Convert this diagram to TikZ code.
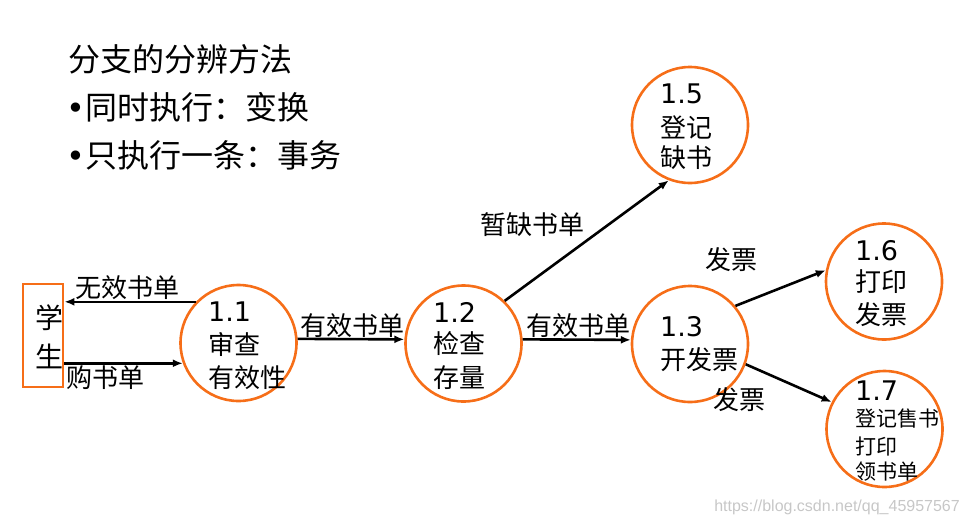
\documentclass[tikz,border=0pt]{standalone}
\usepackage{fontspec}
\setmainfont{Noto Sans CJK SC}
\newfontfamily\dvs{DejaVu Sans}
\newfontfamily\wmfont{Liberation Sans}
\usetikzlibrary{arrows.meta}
\definecolor{procorange}{RGB}{246,110,24}
\begin{document}
\begin{tikzpicture}[x=1pt,y=-1pt,
  proc/.style={circle, draw=procorange, line width=2.6pt, minimum size=116pt, inner sep=0pt},
  ent/.style={rectangle, draw=procorange, line width=2.8pt, minimum width=40pt, minimum height=103pt, inner sep=0pt},
  flow/.style={draw=black, line width=2.6pt, -{Latex[length=10pt,width=8pt]}},
  lbl/.style={font=\fontsize{26}{26}\selectfont, inner sep=0pt},
  ptxt/.style={font=\fontsize{26}{26}\selectfont, inner sep=0pt, anchor=west},
  pnum/.style={font=\dvs\fontsize{27}{27}\selectfont, inner sep=0pt, anchor=west},
  psmall/.style={font=\fontsize{21}{21}\selectfont, inner sep=0pt, anchor=west},
  title/.style={font=\fontsize{32}{32}\selectfont, inner sep=0pt, anchor=west}]
\useasboundingbox (0,0) rectangle (971,525);
% title
\node[title] (h1) at (68,59) {分支的分辨方法};
\node[title] (h2) at (66,107) {{\dvs •}同时执行：变换};
\node[title] (h3) at (66,155) {{\dvs •}只执行一条：事务};
% entity
\node[ent] (stu) at (43,335.5) {};
\node[font=\fontsize{28}{28}\selectfont, inner sep=0pt] (stua) at (49,318) {学};
\node[font=\fontsize{28}{28}\selectfont, inner sep=0pt] (stub) at (49,356) {生};
% processes
\node[proc] (c11) at (238.5,343) {};
\node[proc] (c12) at (463.5,343.5) {};
\node[proc] (c13) at (690,344) {};
\node[proc] (c15) at (690,125) {};
\node[proc] (c16) at (884,281.5) {};
\node[proc] (c17) at (884.5,429) {};
% process texts
\node[pnum] (t11a) at (208,312) {1.1};
\node[ptxt] (t11b) at (208,344) {审查};
\node[ptxt] (t11c) at (208,378) {有效性};
\node[pnum] (t12a) at (433,312) {1.2};
\node[ptxt] (t12b) at (433,344) {检查};
\node[ptxt] (t12c) at (433,378) {存量};
\node[pnum] (t13a) at (660,327) {1.3};
\node[ptxt] (t13b) at (660,360) {开发票};
\node[pnum] (t15a) at (660,94) {1.5};
\node[ptxt] (t15b) at (660,127) {登记};
\node[ptxt] (t15c) at (660,158) {缺书};
\node[pnum] (t16a) at (855,251) {1.6};
\node[ptxt] (t16b) at (855,282) {打印};
\node[ptxt] (t16c) at (855,315) {发票};
\node[pnum] (t17a) at (855,391) {1.7};
\node[psmall] (t17b) at (855,419) {登记售书};
\node[psmall] (t17c) at (855,446) {打印};
\node[psmall] (t17d) at (855,472) {领书单};
% flows
\draw[flow] (c11.136) -- (stu.east |- c11.136);
\draw[flow] (stu.east |- c11.200) -- (c11.200);
\draw[flow] (c11.4) -- (c12.176);
\draw[flow] (c12.4) -- (c13.176);
\draw[flow] (c12.46) -- (c15.249);
\draw[flow] (c13.40) -- (c16.169);
\draw[flow] (c13.-20) -- (c17.153);
% flow labels
\node[lbl] (l1) at (127,288) {无效书单};
\node[lbl] (l2) at (105,378) {购书单};
\node[lbl] (l3) at (352,326) {有效书单};
\node[lbl] (l4) at (578,326) {有效书单};
\node[lbl] (l5) at (532,225) {暂缺书单};
\node[lbl] (l6) at (731,260) {发票};
\node[lbl] (l7) at (739,400) {发票};
% watermark
\node[font=\wmfont\fontsize{16}{16}\selectfont, text=black!22, inner sep=0pt, anchor=east] (wm) at (960,507) {https://blog.csdn.net/qq\_45957567};
\end{tikzpicture}
\end{document}
